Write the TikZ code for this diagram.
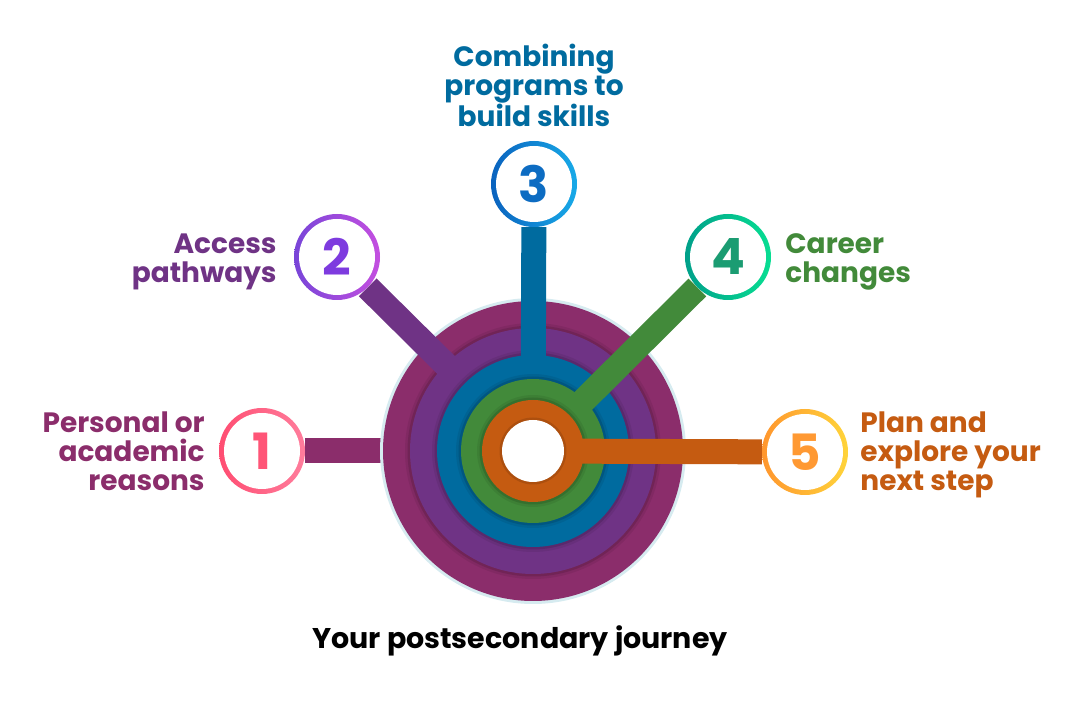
\documentclass[tikz,border=0pt]{standalone}
\usepackage{fontspec}
\setmainfont{Poppins}
\usetikzlibrary{positioning,backgrounds}
\definecolor{ringA}{HTML}{8B2D6B}
\definecolor{ringB}{HTML}{6F3385}
\definecolor{ringC}{HTML}{006B9F}
\definecolor{ringD}{HTML}{428A3A}
\definecolor{ringE}{HTML}{C55B11}
\definecolor{glowc}{HTML}{D6EBF0}
\definecolor{oneL}{HTML}{FF4D72}\definecolor{oneR}{HTML}{FF7D9C}\definecolor{oneN}{HTML}{FF5577}
\definecolor{twoL}{HTML}{7845D8}\definecolor{twoR}{HTML}{C44FE0}\definecolor{twoN}{HTML}{7E3BDF}
\definecolor{threeL}{HTML}{0A62BE}\definecolor{threeR}{HTML}{18AAE8}\definecolor{threeN}{HTML}{0D6CC2}
\definecolor{fourL}{HTML}{00A08A}\definecolor{fourR}{HTML}{08DE92}\definecolor{fourN}{HTML}{1B9C72}
\definecolor{fiveL}{HTML}{FF962E}\definecolor{fiveR}{HTML}{FFD43A}\definecolor{fiveN}{HTML}{FF9933}

\begin{document}
\begin{tikzpicture}[x=1pt,y=1pt]
\tikzstyle{numring}=[circle,minimum size=86pt,inner sep=0pt,font=\fontsize{50}{50}\selectfont\bfseries,
  path picture={\fill[white] (path picture bounding box.center) circle (38pt);}]
\tikzstyle{steptext}=[inner sep=0pt,font=\fontsize{28}{29}\selectfont\bfseries]
\tikzstyle{bar}=[line width=25pt]
\useasboundingbox (0,0) rectangle (1081,701);
\coordinate (C) at (533,250);
\node[numring,left color=oneL,right color=oneR,text=oneN] (n1) at (262,250) {1};
\node[numring,left color=twoL,right color=twoR,text=twoN] (n2) at (337,444) {2};
\node[numring,left color=threeL,right color=threeR,text=threeN] (n3) at (534,517) {3};
\node[numring,left color=fourL,right color=fourR,text=fourN] (n4) at (728,444) {4};
\node[numring,left color=fiveL,right color=fiveR,text=fiveN] (n5) at (805,249) {5};
\node[steptext,text=ringA,align=right][left=14pt of n1] (t1) {Personal or\\academic\\reasons};
\node[steptext,text=ringB,align=right,yshift=-5pt][left=17pt of n2] (t2) {Access\\pathways};
\node[steptext,text=ringC,align=center][above=14pt of n3] (t3) {Combining\\programs to\\build skills};
\node[steptext,text=ringD,align=left,yshift=-5pt][right=14pt of n4] (t4) {Career\\changes};
\node[steptext,text=ringE,align=left,yshift=-3pt][right=12pt of n5] (t5) {Plan and\\explore your\\next step};
\node[font=\fontsize{28.5}{30}\selectfont\bfseries] (title) at (520,60) {Your postsecondary journey};
\begin{scope}[on background layer]
% outer ring with its glow
\draw[bar,ringA] (n1) -- (C);
\fill[glowc] (C) circle (153);
\fill[ringA] (C) circle (150);
% inner rings, each with its own bar
\foreach \r/\c/\n in {123/ringB/n2,96/ringC/n3,72/ringD/n4,51/ringE/n5}{
  \fill[black,opacity=.07] (C) circle (\r+5);
  \fill[black,opacity=.12] (C) circle (\r+2.5);
  \draw[bar,\c] (\n) -- (C);
  \fill[\c] (C) circle (\r);
}
\fill[black,opacity=.12] (C) circle (33.5);
\fill[white] (C) circle (31);
\end{scope}
\end{tikzpicture}
\end{document}
